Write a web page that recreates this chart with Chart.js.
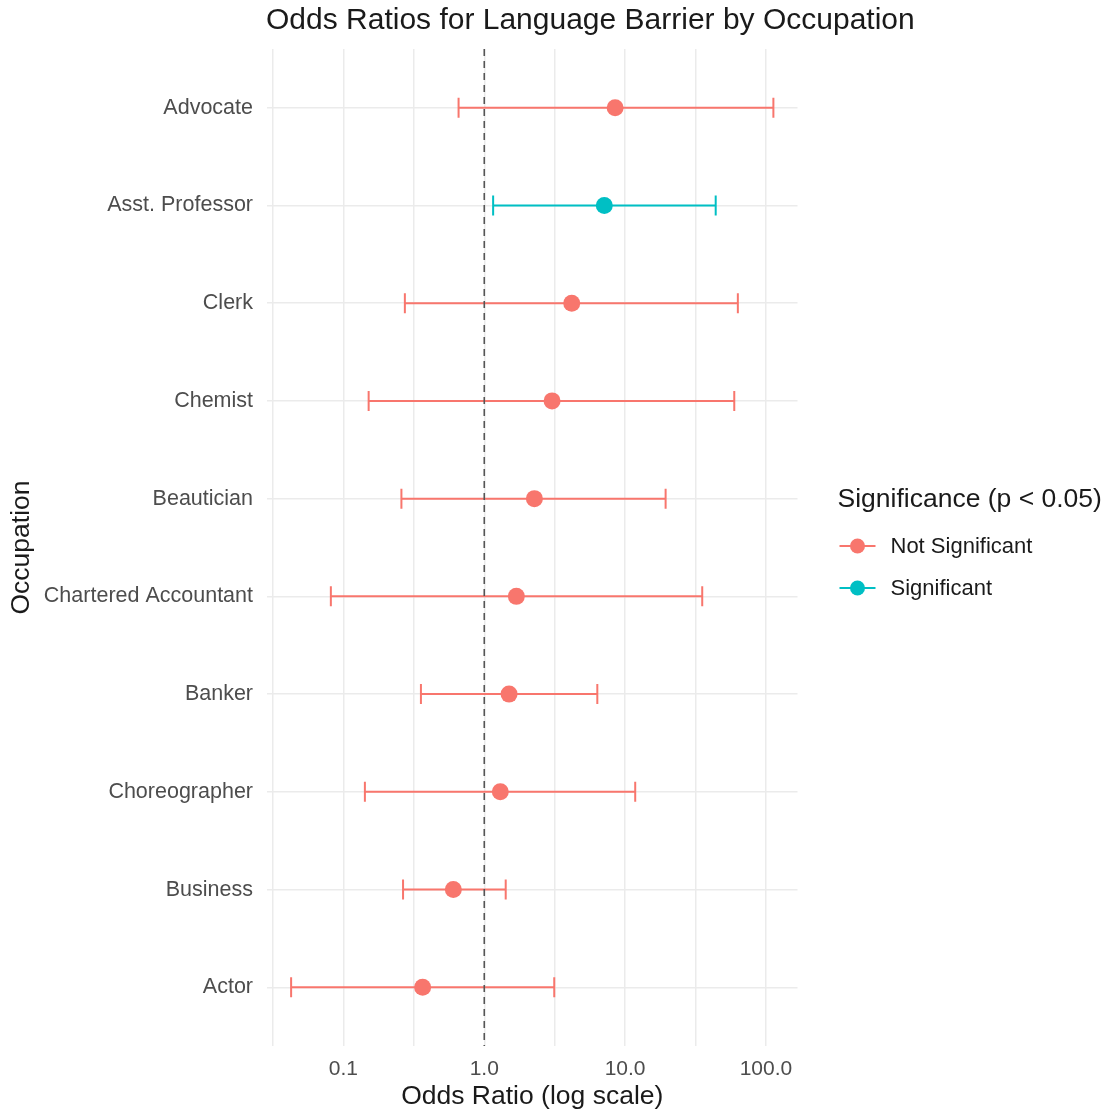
<!DOCTYPE html>
<html>
<head>
<meta charset="utf-8">
<title>Odds Ratios for Language Barrier by Occupation</title>
<script src="https://cdn.jsdelivr.net/npm/chart.js@4.4.1/dist/chart.umd.min.js"></script>
<style>
  html, body { margin: 0; padding: 0; background: #ffffff; }
  #wrap { position: relative; width: 1105px; height: 1111px; }
</style>
</head>
<body>
<div id="wrap"><canvas id="chart" width="1105" height="1111"></canvas></div>
<script>
// Occupations, top row first
const occupations = [
  "Advocate", "Asst. Professor", "Clerk", "Chemist", "Beautician",
  "Chartered Accountant", "Banker", "Choreographer", "Business", "Actor"
];
// Odds ratio estimates and 95% confidence limits
const oddsRatio = [8.50, 7.12, 4.18, 3.03, 2.27, 1.69, 1.50, 1.30, 0.603, 0.365];
const ciLower   = [0.657, 1.156, 0.273, 0.151, 0.258, 0.0814, 0.355, 0.142, 0.265, 0.0425];
const ciUpper   = [113, 44.0, 63.2, 59.6, 19.4, 35.3, 6.35, 11.8, 1.42, 3.14];
// p < 0.05 flag per occupation
const significant = [false, true, false, false, false, false, false, false, false, false];

// Legend groups and x-axis tick labels
const groupNames = ["Not Significant", "Significant"];
const groupColors = ["#F8766D", "#00BFC4"];
const majorTicks = [0.1, 1, 10, 100];
const majorTickLabels = ["0.1", "1.0", "10.0", "100.0"];
const referenceOR = 1;
const chartTitle = "Odds Ratios for Language Barrier by Occupation";
const legendTitle = "Significance (p < 0.05)";

// Log-scale limits with 5% padding on each side of the data range
const logMin = Math.log10(Math.min(...ciLower));
const logMax = Math.log10(Math.max(...ciUpper));
const pad = (logMax - logMin) * 0.05;
const xMin = Math.pow(10, logMin - pad);
const xMax = Math.pow(10, logMax + pad);
// Discrete rows padded by 0.6 of a row at each end
const yMin = -0.6;
const yMax = occupations.length - 1 + 0.6;

const FONT = "'Liberation Sans', Arial, sans-serif";
const colorOf = i => groupColors[significant[i] ? 1 : 0];

const datasets = [];
// Vertical reference line at OR = 1
datasets.push({
  type: "line",
  data: [{ x: referenceOR, y: yMin }, { x: referenceOR, y: yMax }],
  borderColor: "#555555",
  borderWidth: 1.6,
  borderDash: [7, 5],
  pointRadius: 0,
  order: 0
});
// Confidence interval bars with end caps
occupations.forEach((occ, i) => {
  datasets.push({
    type: "line",
    label: occ,
    data: [{ x: ciLower[i], y: i }, { x: ciUpper[i], y: i }],
    borderColor: colorOf(i),
    borderWidth: 2,
    pointStyle: "line",
    rotation: 90,
    pointRadius: 10,
    pointBorderWidth: 2,
    pointBorderColor: colorOf(i),
    order: 2
  });
});
// Point estimates
groupNames.forEach((name, g) => {
  const pts = [];
  occupations.forEach((occ, i) => {
    if ((significant[i] ? 1 : 0) === g) pts.push({ x: oddsRatio[i], y: i });
  });
  datasets.push({
    type: "scatter",
    label: name,
    data: pts,
    backgroundColor: groupColors[g],
    borderWidth: 0,
    pointRadius: 8.5,
    order: 1
  });
});

// Title aligned with the left edge of the panel, legend beside the panel
const annotations = {
  id: "annotations",
  afterDraw(chart) {
    const ctx = chart.ctx;
    const area = chart.chartArea;
    ctx.save();
    ctx.textBaseline = "middle";
    ctx.textAlign = "left";
    ctx.fillStyle = "#1a1a1a";
    ctx.font = "30px " + FONT;
    ctx.fillText(chartTitle, area.left - 1, 21);

    const x0 = area.right + 40;
    ctx.font = "26.5px " + FONT;
    ctx.fillText(legendTitle, x0, 500);
    groupNames.forEach((name, g) => {
      const y = 546 + g * 42;
      ctx.strokeStyle = groupColors[g];
      ctx.lineWidth = 2;
      ctx.beginPath();
      ctx.moveTo(x0 + 2, y);
      ctx.lineTo(x0 + 38, y);
      ctx.stroke();
      ctx.fillStyle = groupColors[g];
      ctx.beginPath();
      ctx.arc(x0 + 20, y, 7.5, 0, Math.PI * 2);
      ctx.fill();
      ctx.fillStyle = "#1a1a1a";
      ctx.font = "22px " + FONT;
      ctx.fillText(name, x0 + 53, y + 1);
    });
    ctx.restore();
  }
};

const gridColor = "#ebebeb";

new Chart(document.getElementById("chart"), {
  type: "line",
  data: { datasets },
  plugins: [annotations],
  options: {
    responsive: false,
    animation: false,
    layout: { padding: { left: 0, right: 307.5, top: 49, bottom: 0 } },
    plugins: {
      legend: { display: false },
      tooltip: { enabled: false },
      title: { display: false }
    },
    scales: {
      x: {
        type: "logarithmic",
        min: xMin,
        max: xMax,
        afterBuildTicks(scale) {
          const t = [];
          for (let e = -2; e <= 2; e++) {
            [Math.pow(10, e), Math.pow(10, e + 0.5)].forEach(v => {
              if (v >= xMin && v <= xMax) t.push({ value: v });
            });
          }
          scale.ticks = t;
        },
        afterFit(scale) { scale.height = 65; },
        grid: { color: gridColor, lineWidth: 1.5, drawTicks: false },
        border: { display: false },
        ticks: {
          autoSkip: false,
          maxRotation: 0,
          padding: 11,
          color: "#4d4d4d",
          font: { family: FONT, size: 21 },
          callback(value) {
            const k = majorTicks.findIndex(m => Math.abs(Math.log10(m) - Math.log10(value)) < 1e-6);
            return k >= 0 ? majorTickLabels[k] : "";
          }
        },
        title: {
          display: true,
          text: "Odds Ratio (log scale)",
          color: "#1a1a1a",
          font: { family: FONT, size: 26.5, lineHeight: 1.1 },
          padding: { top: 0, bottom: 0 }
        }
      },
      y: {
        type: "linear",
        reverse: true,
        min: yMin,
        max: yMax,
        afterBuildTicks(scale) {
          scale.ticks = occupations.map((o, i) => ({ value: i }));
        },
        afterFit(scale) { scale.width = 267; },
        grid: { color: gridColor, lineWidth: 1.5, drawTicks: false },
        border: { display: false },
        ticks: {
          autoSkip: false,
          padding: 14,
          color: "#4d4d4d",
          font: { family: FONT, size: 21.5, lineHeight: 1.0 },
          callback(value) { return occupations[value] ?? ""; }
        },
        title: {
          display: true,
          text: "Occupation",
          color: "#1a1a1a",
          font: { family: FONT, size: 26.5, lineHeight: 1.2 },
          padding: { top: 6, bottom: 0 }
        }
      }
    }
  }
});
</script>
</body>
</html>
